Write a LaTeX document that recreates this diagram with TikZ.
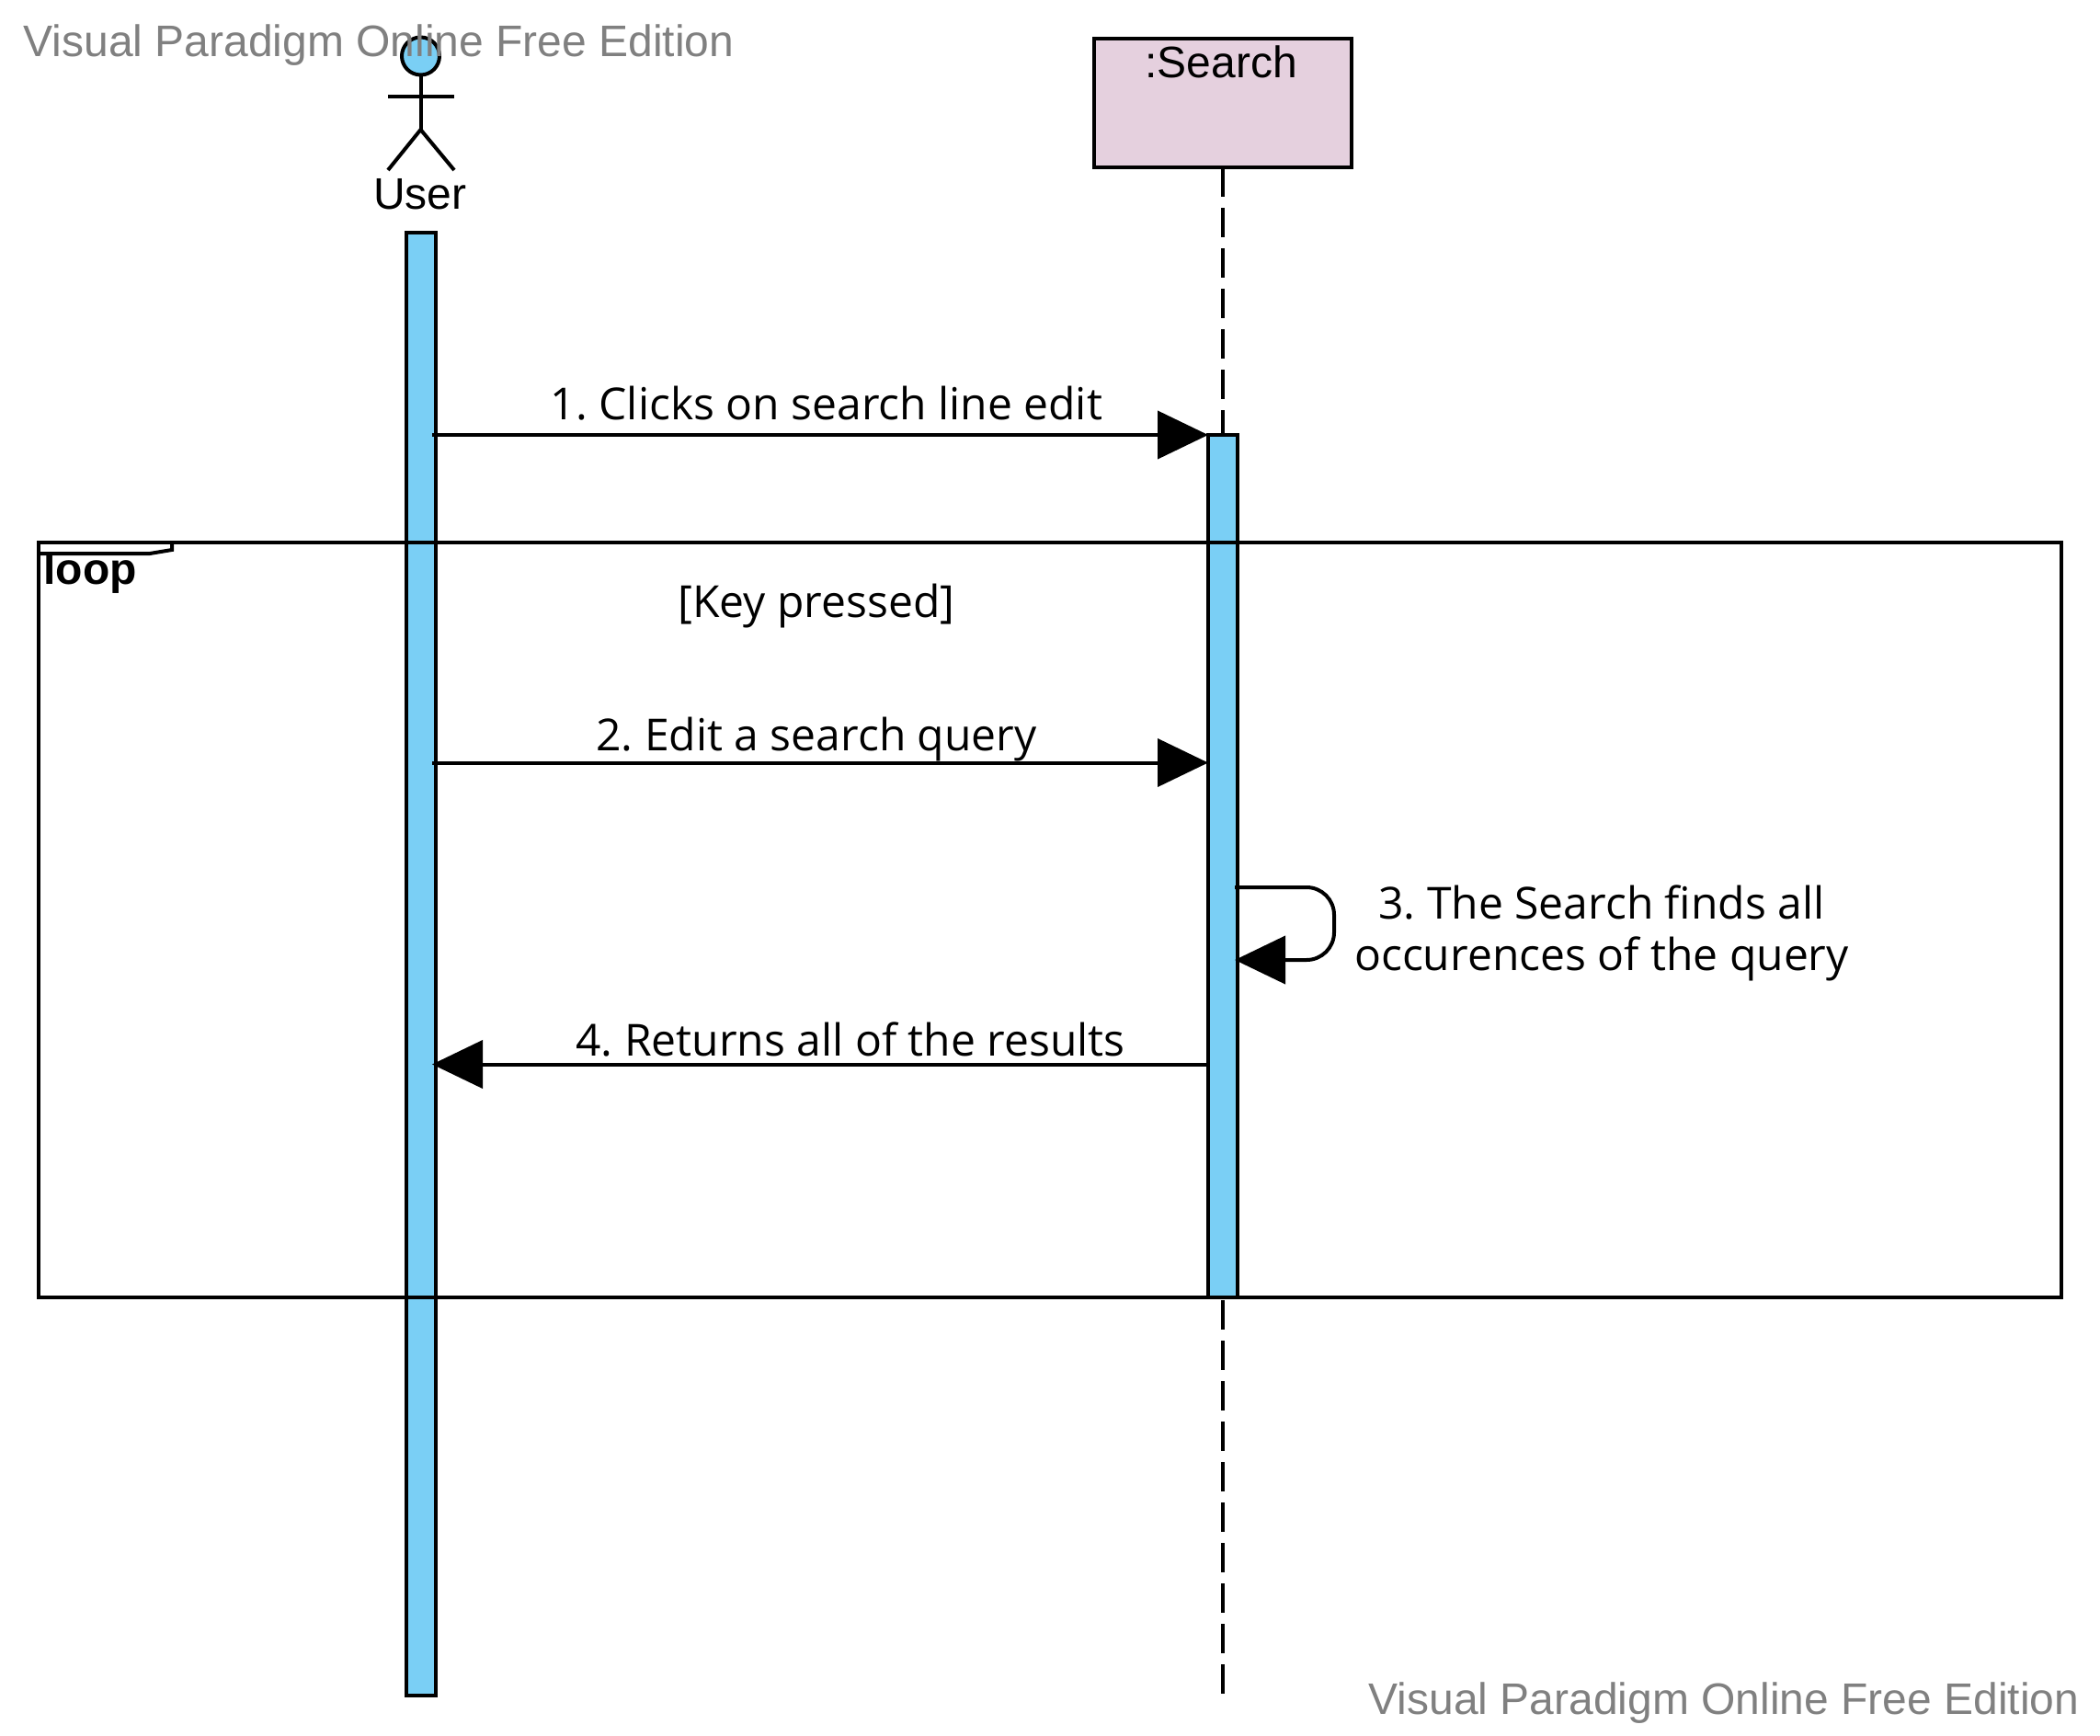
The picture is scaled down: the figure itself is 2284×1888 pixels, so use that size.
\documentclass[tikz,border=0pt]{standalone}
\usepackage{fontspec}
\setmainfont{Liberation Sans}
\newfontfamily\msgfont{Open Sans}
\definecolor{vpblue}{RGB}{122,207,245}
\definecolor{vpmauve}{RGB}{229,208,222}
\definecolor{vpgray}{RGB}{128,128,128}
\usetikzlibrary{arrows.meta,positioning,calc}

\begin{document}
\frenchspacing
\begin{tikzpicture}[x=0.5pt, y=-0.5pt,
    bar/.style={rectangle, draw=black, fill=vpblue, line width=2pt, inner sep=0pt, outer sep=0pt,
                minimum width=16pt},
    obj/.style={rectangle, draw=black, fill=vpmauve, line width=2pt, inner sep=0pt, outer sep=0pt,
                minimum width=140pt, minimum height=70pt},
    lbl/.style={font=\fontsize{24}{28}\selectfont, inner sep=0pt},
    msglbl/.style={font=\msgfont\frenchspacing\fontsize{24}{28}\selectfont, align=center, inner sep=0pt},
    wmark/.style={font=\fontsize{24}{28}\selectfont, text=vpgray, inner sep=0pt},
    conn/.style={line width=2pt, draw=black},
    msg/.style={line width=2pt, draw=black, -{Triangle[length=27.5pt, width=26pt]}},
    life/.style={line width=2pt, draw=black, dash pattern=on 16pt off 6pt}
  ]
    \useasboundingbox (0,0) rectangle (2284,1888);

    % Search
    \node[obj] (search) at (1330,112) {};
    \node[lbl] (searchlbl) at (1328,67) {:Search};
    \coordinate (lifeend) at (1330,1843);
    \draw[life] (search.south) -- (lifeend);

    % Activations
    \node[bar, minimum height=795.5pt] (userbar) at (457.5,1048.5) {};
    \node[bar, minimum height=469pt]   (srchbar) at (1330,942) {};

    % User
    \node[circle, draw=black, fill=vpblue, line width=2pt, minimum size=20.5pt, inner sep=0pt, outer sep=0pt] (head) at (457.5,61) {};
    \coordinate (hip)  at (457.5,141);
    \coordinate (armL) at (422,105);
    \coordinate (armR) at (494,105);
    \coordinate (legL) at (422,185);
    \coordinate (legR) at (494,185);
    \draw[conn] (head.south) -- (hip);
    \draw[conn] (armL) -- (armR);
    \draw[conn] (legL) -- (hip) -- (legR);
    \node[lbl] (user) at (457,211) {User};

    % Loop
    \node[font=\bfseries\fontsize{24}{28}\selectfont, anchor=base west, inner sep=0pt] (looplbl) at (47,635) {loop};
    \fill[white] (42,590) -- (187,590) -- (187,598) -- (163,602) -- (42,602) -- cycle;
    \node[rectangle, draw=black, line width=2pt, inner sep=0pt, outer sep=0pt,
          minimum width=1100pt, minimum height=410.75pt] (frame) at (1142,1000.25) {};
    \coordinate (tabA) at (187,590);
    \coordinate (tabB) at (187,598);
    \coordinate (tabC) at (163,602);
    \coordinate (tabD) at (42,602);
    \draw[conn] (tabA) -- (tabB) -- (tabC) -- (tabD);
    \node[msglbl] (guard) at (888,659.5) {[Key pressed]};

    % Messages
    \coordinate (m1) at (470,473);
    \coordinate (m2) at (470,829.5);
    \coordinate (m3) at (1343,965);
    \coordinate (m3e) at (1343,1044);
    \coordinate (m4) at (470,1157.5);
    \draw[msg] (m1) -- (srchbar.west |- m1);
    \draw[msg] (m2) -- (srchbar.west |- m2);
    \draw[msg, rounded corners=15pt] (m3) -- (1451,965) -- (1451,1044) -- (m3e);
    \draw[msg] (srchbar.west |- m4) -- (m4);

    \node[msglbl] (m1lbl) at (899,438.5) {1. Clicks on search line edit};
    \node[msglbl] (m2lbl) at (888,804) {2. Edit a search query};
    \node[msglbl] (m3lbl) at (1742,1015) {3. The Search finds all\\occurences of the query};
    \node[msglbl] (m4lbl) at (925,1130.5) {4. Returns all of the results};

    % Watermarks
    \node[wmark] (markA) at (412,49) {Visual Paradigm Online Free Edition};
    \node[wmark] (markB) at (1875,1852) {Visual Paradigm Online Free Edition};
\end{tikzpicture}
\end{document}
